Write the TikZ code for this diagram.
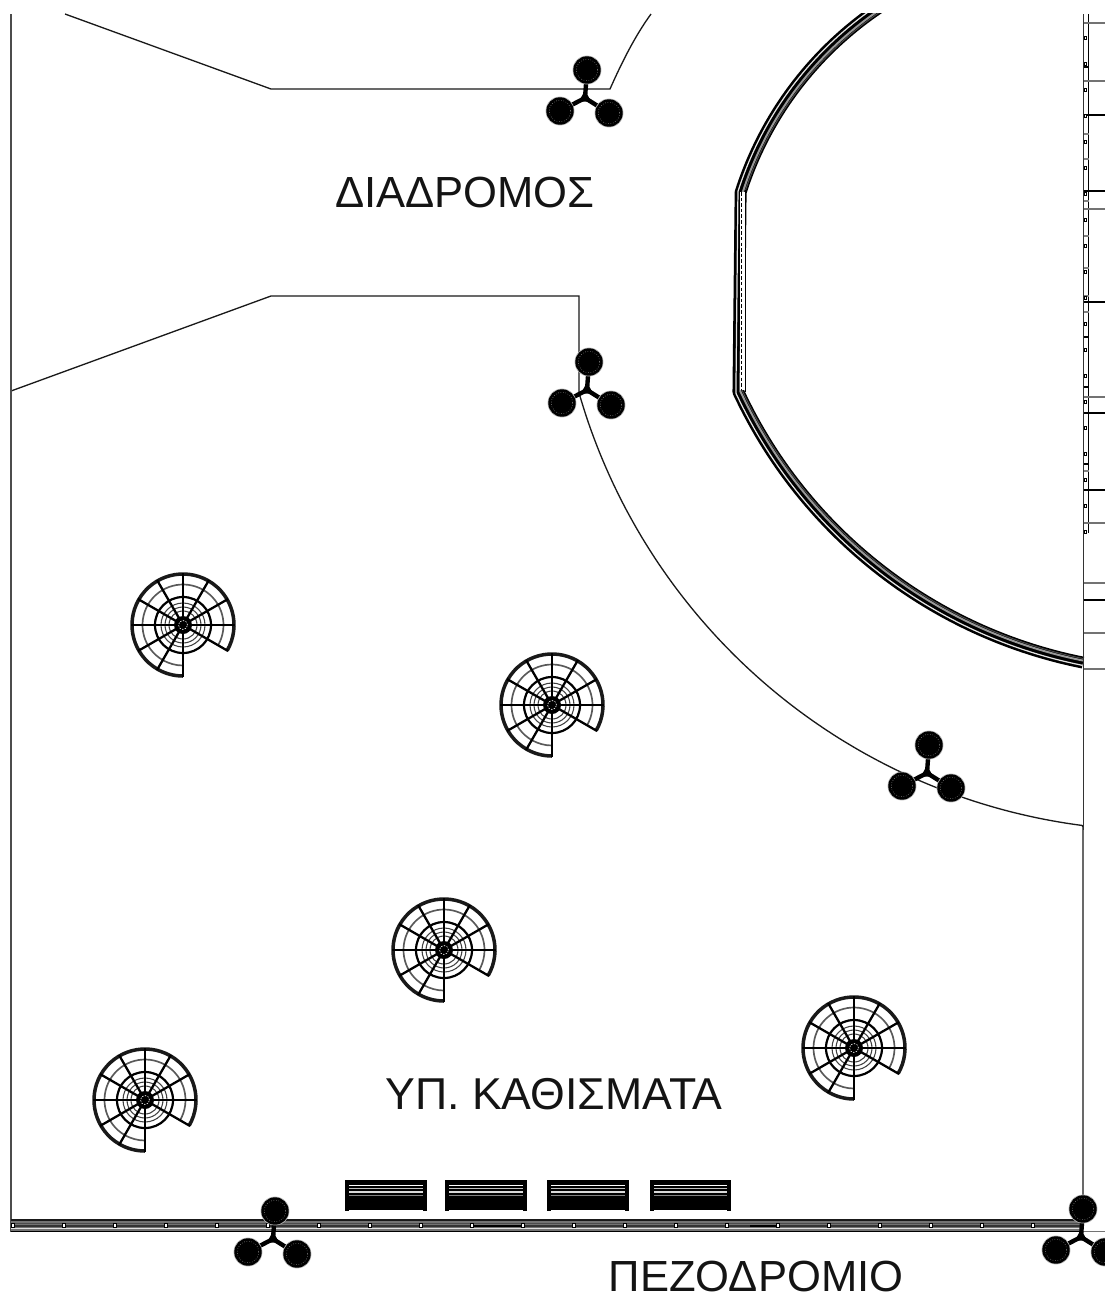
\documentclass[tikz,border=0pt]{standalone}
\usepackage{fontspec}
\setmainfont{Liberation Sans}
\tikzset{
  thinline/.style={line width=0.75pt,black!90},
  graytick/.style={line width=0.8pt,black!55},
  blacktick/.style={line width=0.7pt,black},
  stub/.style={line width=0.7pt,black},
  label/.style={inner sep=0pt,font=\fontsize{24.8}{30}\selectfont,text=black!92},
  sqmark/.style={draw=black,line width=0.5pt,fill=white},
}
% lamp with three heads; #1,#2 = hub position
\newcommand{\lampmark}[2]{
  \begin{scope}[shift={(#1,#2)}]
    \draw[line width=2.5pt,black] (0,0) -- (2,-28) (0,0) -- (-25,13) (0,0) -- (24,15);
    \fill[black] (-6,3.5) -- (0,-8) -- (6,3.5) -- cycle;
    \foreach \p in {(2,-28),(-25,13),(24,15)}{
      \fill[black!30] \p circle[radius=14.4];
      \fill[black] \p circle[radius=13.7];
      \draw[white!75!black,line width=0.25pt,dash pattern=on 0.3pt off 1.1pt] \p circle[radius=10.8];
    }
  \end{scope}
}
% spiral stair, #1,#2 = centre
\newcommand{\spiralmark}[2]{
  \begin{scope}[shift={(#1,#2)},y=0.02cm]
    \foreach \r in {14,18,22}{\draw[black!75,line width=0.6pt] (0,0) circle[radius=\r];}
    \draw[black,line width=1.25pt] (0,0) circle[radius=28];
    \draw[black!65,line width=0.95pt] (-30:40.5) arc[start angle=-30,end angle=270,radius=40.5];
    \draw[black!90,line width=2pt] (-30:51) arc[start angle=-30,end angle=270,radius=51];
    \foreach \a in {-90,-30,0,30,60,90,120,150,180,210,240}{
      \draw[black,line width=1.3pt] (\a:7) -- (\a:52);
    }
    \fill[black] (0,0) circle[radius=9];
    \draw[white,line width=0.35pt,dash pattern=on 0.8pt off 0.8pt] (0,0) circle[radius=4.5];
  \end{scope}
}
% bench, #1 = left x, #2 = right x
\newcommand{\benchmark}[2]{
  \fill[black] (#1,1179.5) rectangle (#2,1211);
  \fill[white] (#1+4,1209.5) rectangle (#2-4,1211);
  \draw[white,line width=0.55pt] (#1+4,1185) -- (#2-4,1185);
  \draw[black!25,line width=0.55pt] (#1+4,1188) -- (#2-4,1188);
  \draw[black!15,line width=0.8pt] (#1+4,1192) -- (#2-4,1192);
  \draw[black!50,line width=0.6pt] (#1+4,1195.3) -- (#2-4,1195.3);
}
\newcommand{\bandp}[1]{
  plot[domain=123:162.3,samples=40] ({1075+(351+#1)*cos(\x)},{299-(351+#1)*sin(\x)})
  -- plot[domain=205:258.7,samples=60] ({1178+(485+#1)*cos(\x)},{187-(485+#1)*sin(\x)})
}
\begin{document}
\begin{tikzpicture}[x=0.02cm,y=-0.02cm]
\useasboundingbox (0,0) rectangle (1105,1299);
% site outlines
\draw[thinline] (65,14) -- (271,89) -- (610,89) .. controls (622,62) and (635,36) .. (651,14);
\draw[thinline] (11,391) -- (271,296) -- (579,296) -- (579,392);
\draw[thinline,black!70] (11,14) -- (11,1232);
\draw[thinline] plot[domain=196:262.6,samples=90] ({1160+604.5*cos(\x)},{226-604.5*sin(\x)}) -- (1083,827) -- (1083,1222);
% curved band
\begin{scope}
  \clip (700,13.5) rectangle (1085.8,680);
  \draw[black,line width=6.8pt,line join=bevel] \bandp{0};
  \draw[black!40,line width=1.1pt] \bandp{-2};
  \draw[black!70,line width=0.5pt] \bandp{-4};
  \draw[white!90!black,line width=0.7pt] \bandp{2.8};
\end{scope}
\fill[white] (739.5,192) rectangle (745,390);
\draw[black,line width=0.7pt,dash pattern=on 2pt off 1.2pt] (741.5,192) -- (741.5,390);
\draw[black,line width=0.7pt] (745.5,190) -- (745.5,392);
% right-hand ladder
\draw[black!80,line width=0.7pt] (1083.5,14) -- (1083.5,830);
\draw[stub,line width=0.8pt] (1088.5,14) -- (1088.5,533);
\foreach \y in {23,81,209,397,523,583,633,669}{\draw[graytick] (1083.5,\y) -- (1105,\y);}
\foreach \y in {115,191,302,413,490,600}{\draw[blacktick] (1083.5,\y) -- (1105,\y);}
\foreach \y in {67,337,387,464}{\draw[stub] (1083.5,\y) -- (1088.5,\y);}
\foreach \y in {134,159,201,236,268,296,312,471}{\draw[black!50,line width=0.7pt] (1083.5,\y) -- (1088.5,\y);}
\foreach \y in {38,64,...,532}{\draw[sqmark] (1084,\y-1.3) rectangle (1086.3,\y+1.3);}
% bottom rail
\fill[black!55] (11,1220) rectangle (1083,1232);
\draw[black!90,line width=0.8pt] (11,1220) -- (1083,1220);
\draw[black!70,line width=0.5pt] (11,1223) -- (1083,1223);
\draw[black!80,line width=0.6pt] (11,1226) -- (1083,1226);
\draw[black!12,line width=0.8pt] (11,1228.5) -- (1083,1228.5);
\draw[black,line width=1pt] (11,1231.5) -- (1083,1231.5);
\draw[black!55,line width=0.7pt] (1083,1231.5) -- (1105,1231.5);
\draw[black,line width=1.2pt] (472,1226) -- (523,1226) (750,1226) -- (778,1226);
\foreach \x in {13,64,...,1033}{\draw[sqmark] (\x-1.8,1223) rectangle (\x+1.8,1227.8);}
% lamps
\lampmark{585}{98}
\lampmark{587}{390}
\lampmark{927}{773}
\lampmark{273}{1239}
\lampmark{1081}{1237}
% spiral stairs
\spiralmark{183}{625}
\spiralmark{552}{705}
\spiralmark{444}{950}
\spiralmark{854}{1048}
\spiralmark{145}{1100}
% benches
\benchmark{345}{427}
\benchmark{445}{527}
\benchmark{547}{629}
\benchmark{650}{731}
% labels
\node[label] (corridor) at (465,192) {ΔΙΑΔΡΟΜΟΣ};
\node[label,font=\fontsize{25.4}{30}\selectfont] (seating) at (554,1094) {ΥΠ. ΚΑΘΙΣΜΑΤΑ};
\node[label] (pavement) at (756,1276.5) {ΠΕΖΟΔΡΟΜΙΟ};
\end{tikzpicture}
\end{document}
